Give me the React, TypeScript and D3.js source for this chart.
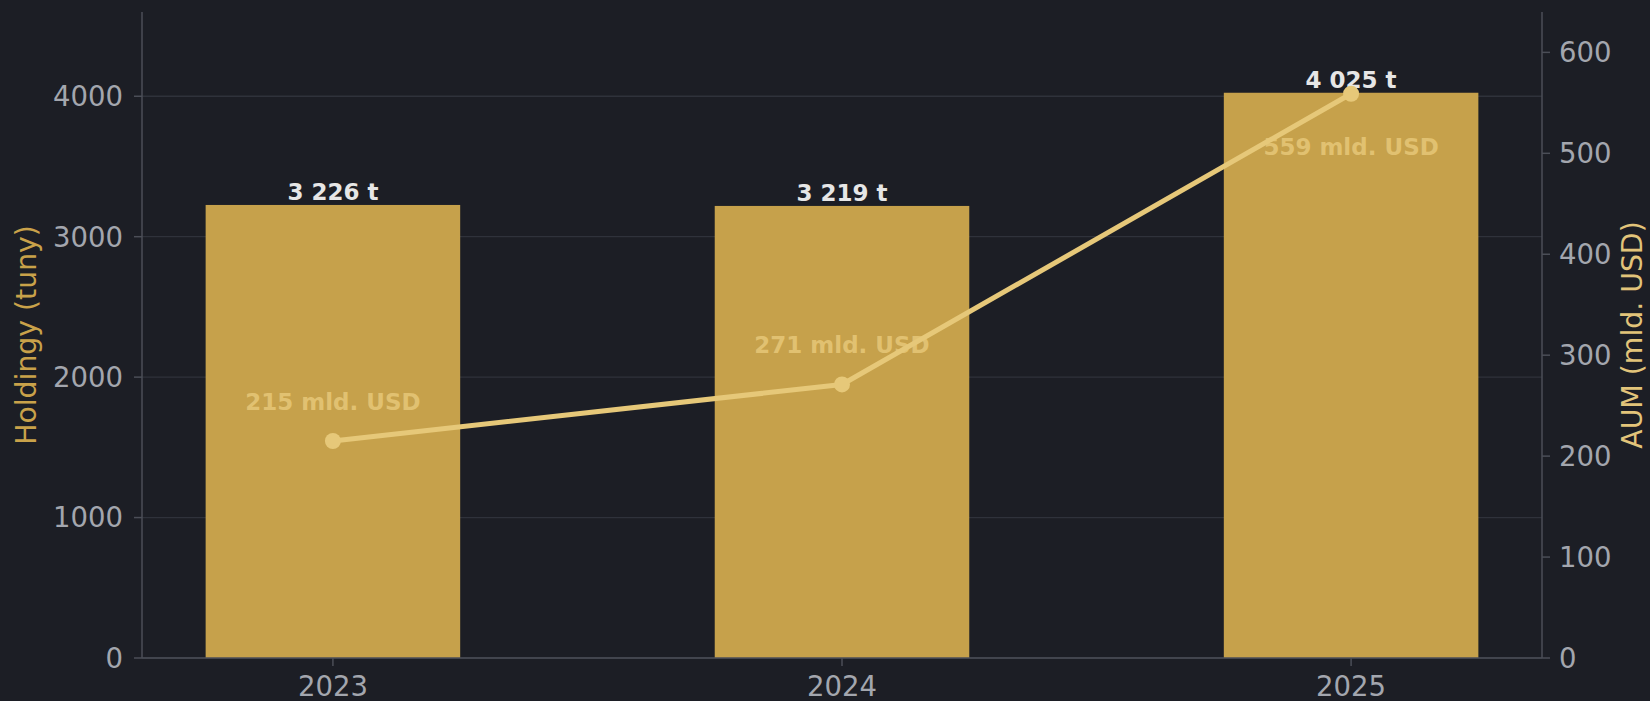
import React, { useEffect, useRef } from 'react';
import * as d3 from 'd3';

// data
const years = ['2023', '2024', '2025'];
const holdings = [3226, 3219, 4025];
const holdingLabels = ['3 226 t', '3 219 t', '4 025 t'];
const aum = [215, 271, 559];
const aumLabels = ['215 mld. USD', '271 mld. USD', '559 mld. USD'];
const leftTicks = [0, 1000, 2000, 3000, 4000];
const rightTicks = [0, 100, 200, 300, 400, 500, 600];

const App = () => {
  const ref = useRef<SVGSVGElement>(null);

  useEffect(() => {
    const W = 1650,
      H = 701;
    // plot box
    const margin = { top: 12, right: 108, bottom: 43, left: 142 };
    const width = W - margin.left - margin.right,
      height = H - margin.top - margin.bottom;

    const root = d3.select(ref.current);
    root.selectAll('*').remove();
    root.attr('width', W).attr('height', H);
    root.append('rect').attr('width', W).attr('height', H).attr('fill', '#1c1e25');

    const svg = root.append('g').attr('transform', 'translate(' + margin.left + ',' + margin.top + ')');

    const font = 'DejaVu Sans, sans-serif';
    const axisCol = '#4b4e57';
    const tickTextCol = '#a3a6ae';

    // x is numeric like matplotlib bar positions, with 5% margins
    const xScale = d3.scaleLinear().domain([-0.375, 2.375]).range([0, width]);
    const yLeft = d3.scaleLinear().domain([0, 4600]).range([height, 0]);
    const yRight = d3.scaleLinear().domain([0, 640]).range([height, 0]);
    const barW = xScale(0.5) - xScale(0);

    // grid
    svg
      .append('g')
      .selectAll('line')
      .data(leftTicks)
      .join('line')
      .attr('x1', 0)
      .attr('x2', width)
      .attr('y1', (d) => yLeft(d))
      .attr('y2', (d) => yLeft(d))
      .attr('stroke', '#2f323b')
      .attr('stroke-width', 1.3);

    // bars
    svg
      .append('g')
      .selectAll('rect')
      .data(holdings)
      .join('rect')
      .attr('x', (d, i) => xScale(i) - barW / 2)
      .attr('y', (d) => yLeft(d))
      .attr('width', barW)
      .attr('height', (d) => height - yLeft(d))
      .attr('fill', '#c6a14b');

    // bar labels
    svg
      .append('g')
      .selectAll('text')
      .data(holdings)
      .join('text')
      .attr('x', (d, i) => xScale(i))
      .attr('y', (d) => yLeft(d) - 5)
      .attr('text-anchor', 'middle')
      .attr('font-family', font)
      .attr('font-weight', 'bold')
      .attr('font-size', 23)
      .attr('fill', '#e6e6e6')
      .text((d, i) => holdingLabels[i]);

    // spines
    const spines = svg.append('g').attr('stroke', axisCol).attr('stroke-width', 1.5);
    spines.append('line').attr('x1', 0).attr('x2', 0).attr('y1', 0).attr('y2', height);
    spines.append('line').attr('x1', width).attr('x2', width).attr('y1', 0).attr('y2', height);
    spines.append('line').attr('x1', 0).attr('x2', width).attr('y1', height).attr('y2', height);

    // left axis
    const left = svg.append('g');
    left
      .selectAll('line')
      .data(leftTicks)
      .join('line')
      .attr('x1', -8)
      .attr('x2', 0)
      .attr('y1', (d) => yLeft(d))
      .attr('y2', (d) => yLeft(d))
      .attr('stroke', axisCol)
      .attr('stroke-width', 1.5);
    left
      .selectAll('text')
      .data(leftTicks)
      .join('text')
      .attr('x', -19)
      .attr('y', (d) => yLeft(d))
      .attr('dy', '0.36em')
      .attr('text-anchor', 'end')
      .attr('font-family', font)
      .attr('font-size', 27.5)
      .attr('fill', tickTextCol)
      .text((d) => d);

    // right axis
    const right = svg.append('g').attr('transform', 'translate(' + width + ',0)');
    right
      .selectAll('line')
      .data(rightTicks)
      .join('line')
      .attr('x1', 0)
      .attr('x2', 8)
      .attr('y1', (d) => yRight(d))
      .attr('y2', (d) => yRight(d))
      .attr('stroke', axisCol)
      .attr('stroke-width', 1.5);
    right
      .selectAll('text')
      .data(rightTicks)
      .join('text')
      .attr('x', 17)
      .attr('y', (d) => yRight(d))
      .attr('dy', '0.36em')
      .attr('text-anchor', 'start')
      .attr('font-family', font)
      .attr('font-size', 27.5)
      .attr('fill', tickTextCol)
      .text((d) => d);

    // bottom axis
    const bottom = svg.append('g').attr('transform', 'translate(0,' + height + ')');
    bottom
      .selectAll('line')
      .data(years)
      .join('line')
      .attr('x1', (d, i) => xScale(i))
      .attr('x2', (d, i) => xScale(i))
      .attr('y1', 0)
      .attr('y2', 8)
      .attr('stroke', axisCol)
      .attr('stroke-width', 1.5);
    bottom
      .selectAll('text')
      .data(years)
      .join('text')
      .attr('x', (d, i) => xScale(i))
      .attr('y', 38)
      .attr('text-anchor', 'middle')
      .attr('font-family', font)
      .attr('font-size', 27.5)
      .attr('fill', tickTextCol)
      .text((d) => d);

    // axis titles, centred on the plot height
    const midY = margin.top + height / 2;
    root
      .append('text')
      .attr('transform', 'translate(36,' + midY + ') rotate(-90)')
      .attr('text-anchor', 'middle')
      .attr('font-family', font)
      .attr('font-size', 28.3)
      .attr('fill', '#c9a24a')
      .text('Holdingy (tuny)');
    root
      .append('text')
      .attr('transform', 'translate(1632,' + midY + ') rotate(-90)')
      .attr('text-anchor', 'middle')
      .attr('dominant-baseline', 'central')
      .attr('font-family', font)
      .attr('font-size', 28.3)
      .attr('fill', '#e2c47a')
      .text('AUM (mld. USD)');

    // AUM line
    const valueline = d3
      .line<number>()
      .x((d, i) => xScale(i))
      .y((d) => yRight(d));

    svg
      .append('path')
      .datum(aum)
      .attr('d', valueline)
      .style('fill', 'none')
      .style('stroke', '#e6c879')
      .style('stroke-width', '5')
      .style('stroke-linejoin', 'round');

    svg
      .append('g')
      .selectAll('circle')
      .data(aum)
      .join('circle')
      .attr('cx', (d, i) => xScale(i))
      .attr('cy', (d) => yRight(d))
      .attr('r', 8)
      .attr('fill', '#e6c879');

    // AUM labels, last one sits under its point
    svg
      .append('g')
      .selectAll('text')
      .data(aum)
      .join('text')
      .attr('x', (d, i) => xScale(i))
      .attr('y', (d, i) => yRight(d) + (i === aum.length - 1 ? 53 : -39))
      .attr('dominant-baseline', 'central')
      .attr('text-anchor', 'middle')
      .attr('font-family', font)
      .attr('font-weight', 'bold')
      .attr('font-size', 23)
      .attr('fill', '#e6c879')
      .attr('fill-opacity', 0.85)
      .text((d, i) => aumLabels[i]);
  }, []);

  return (
    <div>
      <style>{'body{margin:0;background:#1c1e25}'}</style>
      <svg ref={ref} style={{ display: 'block' }}></svg>
    </div>
  );
};

export default App;
